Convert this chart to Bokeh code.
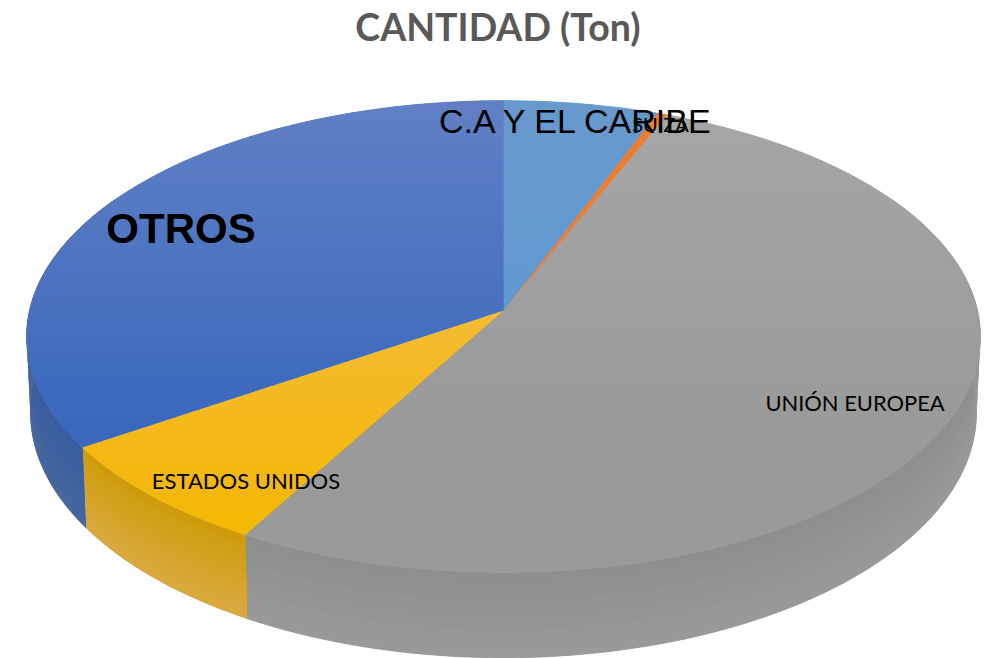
import numpy as np
from bokeh.plotting import figure
from bokeh.embed import file_html
from bokeh.resources import INLINE
from bokeh.core.properties import value

# ---- data (share of total, %) ----
categories = ["C.A Y EL CARIBE", "SUIZA", "UNIÓN EUROPEA", "ESTADOS UNIDOS", "OTROS"]
shares = [5.83, 0.37, 52.0, 7.5, 34.3]
title_text = "CANTIDAD (Ton)"

# ---- styles ----
top_light = ["#6899cd", "#ed7d31", "#a6a6a6", "#f3c060", "#6180c4"]
top_dark = ["#5b9bd5", "#ed7d31", "#9a9a9a", "#f4b700", "#3a68bd"]
top_reach = [1.45, 1.45, 1.45, 1.05, 1.45]
wall_upper = ["#4a7fb0", "#c0651f", "#8e8e8e", "#cd9b08", "#375e9f"]
wall_lower = ["#5a8fc0", "#d07530", "#9a9a9a", "#daaa40", "#47679f"]
label_pos = {"C.A Y EL CARIBE": (576.5, 120), "SUIZA": (660, 123), "UNIÓN EUROPEA": (854.5, 402),
             "ESTADOS UNIDOS": (245.5, 480), "OTROS": (180.5, 228)}
label_font = {"C.A Y EL CARIBE": ("Liberation Sans", "normal", "34px"),
              "SUIZA": ("Lato", "normal", "20px"),
              "UNIÓN EUROPEA": ("Lato", "normal", "21.9px"),
              "ESTADOS UNIDOS": ("Lato", "normal", "22px"),
              "OTROS": ("Liberation Sans", "bold", "42px")}

# ---- projection of the disc ----
CX, CY, RX, RY, PERSP = 503.0, 310.0, 474.0, 233.0, 0.11
DEPTH, BOT_X, BOT_Y = 75.0, 0.992, 1.04
Y_TOP, Y_BOT = 100.0, 572.0


def rim(a, depth=0.0):
    """a: clockwise degrees from the top; depth 0 = top rim, 1 = bottom rim."""
    t = np.radians(a)
    u, v = np.sin(t), np.cos(t)
    w = 1 + PERSP * v
    x0 = CX + RX * u / w
    y0 = CY - RY * v / w
    x1 = CX + RX * BOT_X * u / w
    y1 = CY + DEPTH - RY * BOT_Y * v / w
    return x0 + (x1 - x0) * depth, y0 + (y1 - y0) * depth


def hex2rgb(h):
    return np.array([int(h[i:i + 2], 16) for i in (1, 3, 5)], float)


def mix(a, b, f):
    c = hex2rgb(a) * (1 - f) + hex2rgb(b) * f
    return "#%02x%02x%02x" % tuple(int(round(k)) for k in c)


def clip_half(pts, yc, keep_below):
    out = []
    n = len(pts)
    for i in range(n):
        p, q = pts[i], pts[(i + 1) % n]
        ip = (p[1] >= yc) if keep_below else (p[1] <= yc)
        iq = (q[1] >= yc) if keep_below else (q[1] <= yc)
        if ip:
            out.append(p)
        if ip != iq:
            f = (yc - p[1]) / (q[1] - p[1])
            out.append((p[0] + (q[0] - p[0]) * f, yc))
    return out


shares_a = np.array(shares, float)
edges = np.concatenate([[0], np.cumsum(shares_a)]) / shares_a.sum() * 360

p = figure(width=990, height=658, x_range=(0, 990), y_range=(658, 0),
           output_backend="svg", toolbar_location=None, min_border=0)
p.axis.visible = False
p.grid.visible = False
p.outline_line_color = None

# walls: one base shape per slice, then overlapping colour bands painted downward
BANDS = 9
bx, by, bc = [], [], []
wx, wy, wc = [], [], []
for i in range(len(shares)):
    a0, a1 = max(edges[i], 60), min(edges[i + 1], 300)
    if a1 <= a0:
        continue
    ang = np.linspace(a0, a1, max(2, int((a1 - a0) / 1.5) + 1))
    xa, ya = rim(ang, 0.0)
    xb, yb = rim(ang, 1.0)
    bx.append(list(xa) + list(xb[::-1]))
    by.append(list(ya) + list(yb[::-1]))
    bc.append(mix(wall_upper[i], wall_lower[i], 0.5))
    for b in range(BANDS):
        d0, d1 = b / BANDS, min(1.0, (b + 1) / BANDS + 0.02)
        xa, ya = rim(ang, d0)
        xb, yb = rim(ang, d1)
        wx.append(list(xa) + list(xb[::-1]))
        wy.append(list(ya) + list(yb[::-1]))
        wc.append(mix(wall_upper[i], wall_lower[i], (b + .5) / BANDS))
p.patches(bx, by, fill_color=bc, line_color=bc, line_width=0.6)
p.patches(wx, wy, fill_color=wc, line_color=None)

# top surface: base wedges, then overlapping horizontal colour bands
STEP = 8
sx, sy, sc = [], [], []
tx, ty, tc = [], [], []
for i in range(len(shares)):
    ang = np.linspace(edges[i], edges[i + 1], max(3, int((edges[i + 1] - edges[i]) / 1.5) + 1))
    xr, yr = rim(ang)
    poly = [(CX, CY)] + list(zip(xr, yr))
    sx.append([q[0] for q in poly])
    sy.append([q[1] for q in poly])
    sc.append(mix(top_light[i], top_dark[i], 0.5))
    y = int(Y_TOP) - 4
    while y < Y_BOT + 2:
        part = clip_half(clip_half(poly, y, True), y + STEP + 1, False)
        if len(part) >= 3:
            f = float(np.clip((y + STEP / 2 - Y_TOP) / (Y_BOT - Y_TOP), 0, 1))
            col = mix(top_light[i], top_dark[i], min(1, f * top_reach[i]))
            tx.append([q[0] for q in part])
            ty.append([q[1] for q in part])
            tc.append(col)
        y += STEP
p.patches(sx, sy, fill_color=sc, line_color=sc, line_width=0.6)
p.patches(tx, ty, fill_color=tc, line_color=None)

# labels
for c in categories:
    font, style, size = label_font[c]
    x, y = label_pos[c]
    p.text([x], [y], text=[c], text_font=value(font), text_font_style=style,
           text_font_size=size, text_color="#000000", text_align="center", text_baseline="middle")

p.text([497.5], [26], text=[title_text], text_font=value("Lato"), text_font_style="bold",
       text_font_size="37.5px", text_color="#595959", text_align="center", text_baseline="middle")

open("out.html", "w").write(file_html(p, INLINE))
